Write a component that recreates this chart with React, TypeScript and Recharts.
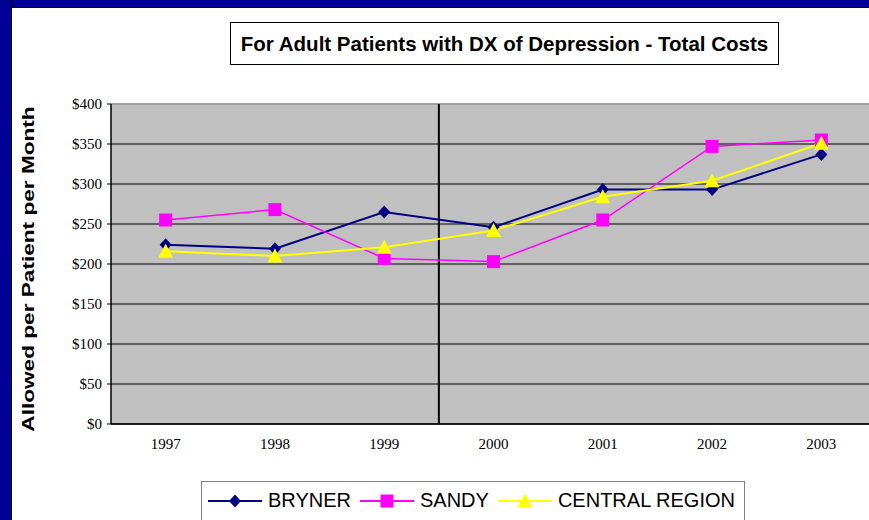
import React from "react"
import { LineChart, Line, XAxis, YAxis, CartesianGrid, ReferenceLine, Legend } from "recharts"

const years = [1997, 1998, 1999, 2000, 2001, 2002, 2003]
const bryner = [224, 219, 265, 246, 293, 293, 337]
const sandy = [255, 268, 207, 203, 255, 347, 355]
const central = [216, 210, 221, 242, 284, 304, 351]
const yTicks = [0, 50, 100, 150, 200, 250, 300, 350, 400]
const yearEdges = [1996.5, 1997.5, 1998.5, 1999.5, 2000.5, 2001.5, 2002.5, 2003.5]
const splitYear = 1999.5

const data = years.map((year, i) => ({
  year,
  bryner: bryner[i],
  sandy: sandy[i],
  central: central[i],
}))

const NAVY = "#000080"
const PINK = "#FF00FF"
const YELLOW = "#FFFF00"
const serif = "'Liberation Serif', 'Times New Roman', serif"
const sans = "'Liberation Sans', Arial, sans-serif"

function Diamond({ cx, cy, r = 6.5 }: { cx: number; cy: number; r?: number }) {
  return <polygon points={`${cx},${cy - r} ${cx + r - 0.5},${cy} ${cx},${cy + r} ${cx - r + 0.5},${cy}`} fill={NAVY} />
}

function Square({ cx, cy, s = 13 }: { cx: number; cy: number; s?: number }) {
  return <rect x={cx - s / 2} y={cy - s / 2} width={s} height={s} fill={PINK} />
}

function Triangle({ cx, cy, s = 15 }: { cx: number; cy: number; s?: number }) {
  const h = s / 2
  return <polygon points={`${cx},${cy - h} ${cx + h},${cy + h - 1} ${cx - h},${cy + h - 1}`} fill={YELLOW} />
}

const series = [
  { key: "bryner", name: "BRYNER", color: NAVY, width: 2, Marker: Diamond },
  { key: "sandy", name: "SANDY", color: PINK, width: 1.5, Marker: Square },
  { key: "central", name: "CENTRAL REGION", color: YELLOW, width: 2, Marker: Triangle },
]

function LegendBox() {
  return (
    <div
      style={{
        width: 544,
        height: 44,
        border: "1px solid #808080",
        background: "#fff",
        display: "flex",
        alignItems: "flex-start",
        paddingLeft: 6,
        paddingTop: 6,
        boxSizing: "border-box",
        fontFamily: sans,
        fontSize: 20,
        color: "#000",
        whiteSpace: "nowrap",
      }}
    >
      {series.map((s) => (
        <div key={s.key} style={{ display: "flex", alignItems: "center", marginRight: 9, flexShrink: 0 }}>
          <svg width={54} height={22} style={{ flexShrink: 0 }}>
            <line x1={0} y1={12} x2={54} y2={12} stroke={s.color} strokeWidth={2} />
            <s.Marker cx={27} cy={12} />
          </svg>
          <span style={{ marginLeft: 6, lineHeight: "24px", whiteSpace: "nowrap" }}>{s.name}</span>
        </div>
      ))}
    </div>
  )
}

export default function App() {
  return (
    <div style={{ position: "absolute", left: 0, top: 0, width: 869, height: 520, overflow: "hidden", background: "#fff" }}>
      <LineChart
        width={880}
        height={520}
        data={data}
        margin={{ top: 104, right: 4, left: 26, bottom: 66 }}
        style={{ position: "absolute", left: 0, top: 0 }}
      >
        <CartesianGrid vertical={false} stroke="#000" strokeWidth={1} fill="#C0C0C0" fillOpacity={1} />
        <XAxis
          xAxisId="edges"
          dataKey="year"
          type="number"
          domain={[1996.5, 2003.5]}
          ticks={yearEdges}
          tickFormatter={() => ""}
          tickSize={5}
          tickLine={{ stroke: "#000" }}
          axisLine={false}
          height={0}
          allowDataOverflow
        />
        <XAxis
          xAxisId="years"
          dataKey="year"
          type="number"
          domain={[1996.5, 2003.5]}
          ticks={years}
          tickSize={0}
          tickMargin={14}
          tickLine={false}
          axisLine={{ stroke: "#000", strokeWidth: 1.5 }}
          tick={{ fill: "#000", fontFamily: serif, fontSize: 15 }}
          height={30}
          allowDataOverflow
        />
        <YAxis
          domain={[0, 400]}
          ticks={yTicks}
          width={85}
          tickSize={4}
          tickMargin={5}
          tickFormatter={(v: number) => `$${v}`}
          tickLine={{ stroke: "#000" }}
          axisLine={{ stroke: "#000", strokeWidth: 1.5 }}
          tick={{ fill: "#000", fontFamily: serif, fontSize: 15 }}
        />
        <ReferenceLine y={400} xAxisId="years" stroke="#A0A0A0" strokeWidth={2} />
        <ReferenceLine x={splitYear} xAxisId="years" stroke="#000" strokeWidth={2} />
        {series.map((s) => (
          <Line
            key={s.key}
            xAxisId="years"
            dataKey={s.key}
            name={s.name}
            stroke={s.color}
            strokeWidth={s.width}
            isAnimationActive={false}
            dot={(p: any) => <s.Marker key={`${s.key}-${p.index}`} cx={p.cx} cy={p.cy} />}
            activeDot={false}
          />
        ))}
        <Legend
          verticalAlign="middle"
          layout="horizontal"
          content={() => <LegendBox />}
          wrapperStyle={{ position: "absolute", top: 481, left: 201, width: 544, height: 44 }}
        />
      </LineChart>

      <div style={{ position: "absolute", left: 0, top: 0, width: 869, height: 7, background: "#000099", borderBottom: "1px solid #000" }} />
      <div style={{ position: "absolute", left: 0, top: 0, width: 11, height: 520, background: "#000099", borderRight: "1px solid #000" }} />

      <div
        style={{
          position: "absolute",
          left: 230,
          top: 22,
          width: 547,
          height: 41,
          border: "1px solid #000",
          background: "#fff",
          display: "flex",
          alignItems: "center",
          justifyContent: "center",
          fontFamily: sans,
          fontWeight: "bold",
          fontSize: 20.5,
          color: "#000",
          whiteSpace: "nowrap",
        }}
      >
        For Adult Patients with DX of Depression - Total Costs
      </div>

      <div
        style={{
          position: "absolute",
          left: 29,
          top: 269,
          transform: "translate(-50%, -50%) rotate(-90deg) scale(1.33, 1)",
          fontFamily: sans,
          fontWeight: "bold",
          fontSize: 17,
          color: "#000",
          whiteSpace: "nowrap",
          lineHeight: "20px",
        }}
      >
        Allowed per Patient per Month
      </div>
    </div>
  )
}
